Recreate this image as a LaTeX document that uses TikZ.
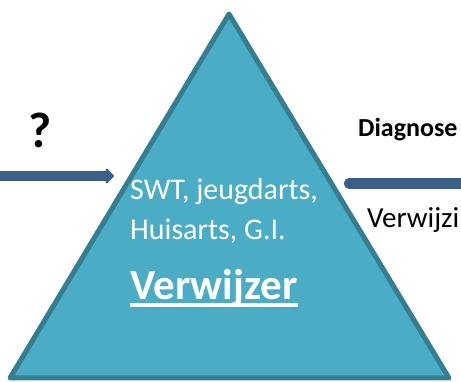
\documentclass[tikz,border=0pt]{standalone}
\usepackage{fontspec}
\setmainfont{Carlito}
\usetikzlibrary{arrows.meta}
\definecolor{piramide}{HTML}{4BACC6}
\definecolor{piramiderand}{HTML}{357D91}
\definecolor{pijl}{HTML}{3A5F8B}
\begin{document}
\begin{tikzpicture}[x=1pt,y=-1pt,inner sep=0pt,
    binnen/.style={anchor=base west,text=white,font=\fontsize{30}{36}\selectfont},
    buiten/.style={anchor=base west,font=\fontsize{29}{34}\selectfont},
    pijl lijn/.style={pijl,line width=10.5pt}]

    \useasboundingbox (0,0) rectangle (461,382);

    % piramide
    \draw[piramiderand,line width=5pt,line join=round,fill=piramide] (229,14) -- (449,378) -- (10,378) -- cycle;

    \node[binnen] (swt) at (130,200) {SWT, jeugdarts,};
    \node[binnen] (huisarts) at (130,240) {Huisarts, G.I.};
    \node[binnen,font=\fontsize{43}{50}\selectfont\bfseries] (verwijzer) at (130,300) {Verwijzer};
    \draw[white,line width=4pt] ([yshift=-5pt]verwijzer.base west) -- ([yshift=-5pt]verwijzer.base east);

    % links
    \node[anchor=base,font=\fontsize{50}{58}\selectfont\bfseries] (vraag) at (40.5,148) {?};
    \coordinate (invoer) at (0,176);
    \coordinate (punt) at (114,176);
    \draw[pijl lijn,-{Triangle[length=9pt,width=17pt,round]}] (invoer) -- (punt);

    % rechts
    \node[buiten,font=\fontsize{26}{30}\selectfont\bfseries] (diagnose) at (358,137) {Diagnose};
    \coordinate (start) at (349,183.5);
    \coordinate (eind) at (470,183.5);
    \draw[pijl lijn,line cap=round] (start) -- (eind);
    \node[buiten] (verwijzing) at (367,228) {Verwijzi};
\end{tikzpicture}
\end{document}
